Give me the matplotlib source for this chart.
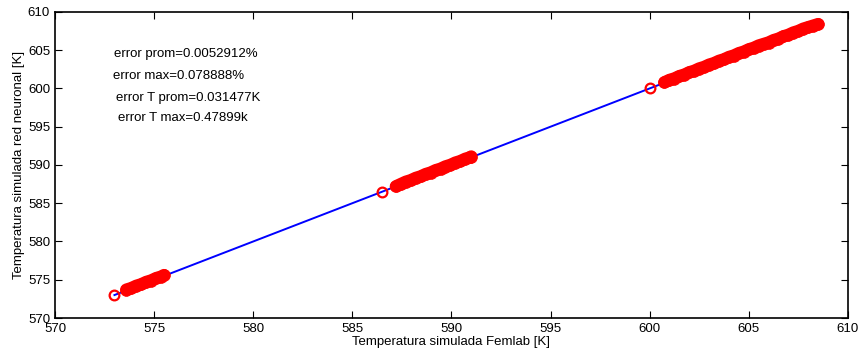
import matplotlib
matplotlib.use("Agg")
import matplotlib.pyplot as plt

plt.rcParams['font.family'] = ['Liberation Sans', 'DejaVu Sans']

# ideal line (Femlab vs Femlab)
line_x = [573.0, 608.5]
line_y = [573.0, 608.5]

# isolated points (hollow circles)
iso_x = [573.0, 586.5, 600.0]
iso_y = [573.0, 586.5, 600.0]

# network output clusters
c1_x = [573.6, 573.85, 574.1, 574.35, 574.6, 574.85, 575.1, 575.35, 575.5]
c1_y = [573.7, 573.9, 574.2, 574.4, 574.7, 574.9, 575.2, 575.4, 575.6]

c2_x = [587.2, 587.45, 587.7, 587.95, 588.2, 588.45, 588.7, 588.95, 589.2,
        589.45, 589.7, 589.95, 590.2, 590.45, 590.7, 590.95, 591.0]
c2_y = [587.2, 587.5, 587.8, 588.0, 588.3, 588.5, 588.8, 589.0, 589.3,
        589.5, 589.8, 590.0, 590.3, 590.5, 590.8, 591.0, 591.1]

c3_x = [600.75, 601.0, 601.25, 601.5, 601.75, 602.0, 602.25, 602.5, 602.75,
        603.0, 603.25, 603.5, 603.75, 604.0, 604.25, 604.5, 604.75, 605.0,
        605.25, 605.5, 605.75, 606.0, 606.25, 606.5, 606.75, 607.0, 607.25,
        607.5, 607.75, 608.0, 608.25, 608.5]
c3_y = [600.8, 601.1, 601.3, 601.6, 601.8, 602.1, 602.3, 602.6, 602.8,
        603.1, 603.3, 603.6, 603.8, 604.1, 604.3, 604.6, 604.8, 605.1,
        605.3, 605.6, 605.8, 606.0, 606.3, 606.5, 606.8, 607.0, 607.3,
        607.5, 607.8, 608.0, 608.2, 608.4]

notes = ["error prom=0.0052912%", "error max=0.078888%",
         "error T prom=0.031477K", "error T max=0.47899k"]
note_x = [573.0, 572.95, 573.1, 573.2]
note_y = [604.5, 601.6, 598.8, 596.2]

ticks = [570, 575, 580, 585, 590, 595, 600, 605, 610]

fig = plt.figure(figsize=(8.59, 3.51), dpi=100)
ax = fig.add_axes([0.064, 0.094, 0.923, 0.872])

ax.plot(line_x, line_y, color='blue', lw=1.4, zorder=2)
# dense overlapping circles form a solid red band
for cx, cy in [(c1_x, c1_y), (c2_x, c2_y), (c3_x, c3_y)]:
    ax.plot(cx, cy, '-o', color='red', mfc='red', ms=8.5, mew=0.5,
            lw=9, solid_capstyle='round', solid_joinstyle='round', zorder=3)
ax.plot(iso_x, iso_y, 'o', color='red', mfc='none', ms=7, mew=1.6, zorder=3)

for t, x, y in zip(notes, note_x, note_y):
    ax.text(x, y, t, fontsize=9.5, va='center', ha='left')

ax.set_xlim(570, 610)
ax.set_ylim(570, 610)
ax.set_xticks(ticks)
ax.set_yticks(ticks)
ax.tick_params(direction='in', top=True, right=True, length=5, labelsize=9.5)
for s in ax.spines.values():
    s.set_linewidth(1.2)

ax.set_xlabel("Temperatura simulada Femlab [K]", fontsize=9.5, labelpad=1)
ax.set_ylabel("Temperatura simulada red neuronal [K]", fontsize=9.5, labelpad=2)

fig.savefig("out.png", dpi=100)
